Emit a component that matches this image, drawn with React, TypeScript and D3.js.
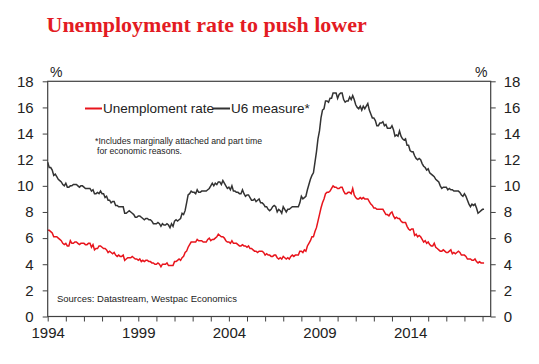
import { useRef, useEffect } from 'react'
import * as d3 from 'd3'

// monthly data, Jan 1994 onwards
const startYear = 1994

const unemploymentRate = [
  6.6, 6.6, 6.5, 6.4, 6.1, 6.1, 6.1, 6.0, 5.9, 5.8, 5.6, 5.5,
  5.6, 5.4, 5.4, 5.8, 5.6, 5.6, 5.7, 5.7, 5.6, 5.5, 5.6, 5.6,
  5.6, 5.5, 5.5, 5.6, 5.6, 5.3, 5.5, 5.1, 5.2, 5.2, 5.4, 5.4,
  5.3, 5.2, 5.2, 5.1, 4.9, 5.0, 4.9, 4.8, 4.9, 4.7, 4.6, 4.7,
  4.6, 4.6, 4.7, 4.3, 4.4, 4.5, 4.5, 4.5, 4.6, 4.5, 4.4, 4.4,
  4.3, 4.4, 4.2, 4.3, 4.2, 4.3, 4.3, 4.2, 4.2, 4.1, 4.1, 4.0,
  4.0, 4.1, 4.0, 3.8, 4.0, 4.0, 4.0, 4.1, 3.9, 3.9, 3.9, 3.9,
  4.2, 4.2, 4.3, 4.4, 4.3, 4.5, 4.6, 4.9, 5.0, 5.3, 5.5, 5.7,
  5.7, 5.7, 5.7, 5.9, 5.8, 5.8, 5.8, 5.7, 5.7, 5.7, 5.9, 6.0,
  5.8, 5.9, 5.9, 6.0, 6.1, 6.3, 6.2, 6.1, 6.1, 6.0, 5.8, 5.7,
  5.7, 5.6, 5.8, 5.6, 5.6, 5.6, 5.5, 5.4, 5.4, 5.5, 5.4, 5.4,
  5.3, 5.4, 5.2, 5.2, 5.1, 5.0, 5.0, 4.9, 5.0, 5.0, 5.0, 4.9,
  4.7, 4.8, 4.7, 4.7, 4.6, 4.6, 4.7, 4.7, 4.5, 4.4, 4.5, 4.4,
  4.6, 4.5, 4.4, 4.5, 4.4, 4.6, 4.7, 4.6, 4.7, 4.7, 4.7, 5.0,
  5.0, 4.9, 5.1, 5.0, 5.4, 5.6, 5.8, 6.1, 6.1, 6.5, 6.8, 7.3,
  7.8, 8.3, 8.7, 9.0, 9.4, 9.5, 9.5, 9.6, 9.8, 10.0, 9.9, 9.9,
  9.8, 9.8, 9.9, 9.9, 9.6, 9.4, 9.4, 9.5, 9.5, 9.4, 9.8, 9.3,
  9.1, 9.0, 9.0, 9.1, 9.0, 9.1, 9.0, 9.0, 9.0, 8.8, 8.6, 8.5,
  8.3, 8.3, 8.2, 8.2, 8.2, 8.2, 8.2, 8.0, 7.8, 7.8, 7.7, 7.9,
  8.0, 7.7, 7.5, 7.6, 7.5, 7.5, 7.3, 7.2, 7.2, 7.2, 6.9, 6.7,
  6.6, 6.7, 6.7, 6.2, 6.3, 6.1, 6.2, 6.1, 5.9, 5.7, 5.8, 5.6,
  5.7, 5.5, 5.4, 5.4, 5.6, 5.3, 5.2, 5.1, 5.0, 5.0, 5.1, 5.0,
  4.9, 4.9, 5.0, 5.1, 4.8, 4.9, 4.8, 4.9, 5.0, 4.9, 4.7, 4.7,
  4.7, 4.6, 4.4, 4.4, 4.4, 4.3, 4.3, 4.4, 4.2, 4.1, 4.2, 4.1,
  4.1, 4.1,
]

const u6Measure = [
  11.8, 11.4, 11.4, 11.2, 10.8, 10.9, 10.7, 10.5, 10.4, 10.3, 10.1, 10.0,
  10.2, 9.9, 9.9, 10.0, 10.0, 10.1, 10.1, 10.1, 10.0, 9.9, 10.0, 10.0,
  9.9, 9.8, 9.8, 9.8, 9.8, 9.6, 9.7, 9.4, 9.4, 9.5, 9.4, 9.6,
  9.4, 9.4, 9.1, 9.2, 8.9, 8.9, 8.7, 8.8, 8.8, 8.5, 8.5, 8.4,
  8.4, 8.4, 8.4, 7.9, 7.9, 8.0, 8.1, 8.0, 7.9, 7.8, 7.6, 7.6,
  7.7, 7.7, 7.6, 7.5, 7.4, 7.5, 7.5, 7.4, 7.4, 7.3, 7.1, 7.1,
  7.1, 7.2, 7.1, 6.9, 7.1, 7.0, 7.0, 7.1, 7.0, 6.8, 7.1, 6.9,
  7.3, 7.4, 7.3, 7.4, 7.5, 7.9, 7.8, 8.1, 8.7, 9.3, 9.4, 9.6,
  9.5, 9.5, 9.4, 9.7, 9.5, 9.5, 9.6, 9.6, 9.6, 9.6, 9.7, 9.8,
  10.0, 10.2, 10.0, 10.2, 10.1, 10.3, 10.3, 10.1, 10.4, 10.2, 10.0, 9.8,
  9.9, 9.7, 10.0, 9.6, 9.6, 9.5, 9.5, 9.4, 9.4, 9.7, 9.4, 9.2,
  9.3, 9.3, 9.1, 8.9, 8.9, 9.0, 8.8, 8.9, 9.0, 8.7, 8.7, 8.6,
  8.4, 8.4, 8.2, 8.1, 8.2, 8.4, 8.5, 8.4, 8.0, 8.2, 8.1, 7.9,
  8.4, 8.2, 8.0, 8.2, 8.2, 8.3, 8.4, 8.4, 8.4, 8.4, 8.4, 8.7,
  9.2, 9.0, 9.1, 9.2, 9.7, 10.1, 10.5, 10.8, 11.0, 11.8, 12.6, 13.6,
  14.2, 15.2, 15.8, 15.9, 16.5, 16.5, 16.4, 16.7, 16.7, 17.1, 17.1, 17.1,
  16.7, 17.0, 17.1, 17.1, 16.6, 16.4, 16.5, 16.5, 16.8, 16.6, 16.9, 16.6,
  16.2, 16.0, 15.9, 16.1, 15.8, 16.1, 15.9, 16.1, 16.3, 15.8, 15.5, 15.2,
  15.2, 15.0, 14.6, 14.6, 14.8, 14.8, 14.9, 14.6, 14.7, 14.4, 14.4, 14.4,
  14.6, 14.3, 13.8, 13.9, 13.8, 14.2, 13.8, 13.6, 13.5, 13.6, 13.1, 13.1,
  12.7, 12.6, 12.6, 12.3, 12.1, 12.0, 12.1, 12.0, 11.7, 11.5, 11.4, 11.2,
  11.3, 11.0, 10.9, 10.8, 10.7, 10.5, 10.4, 10.3, 10.0, 9.8, 9.9, 9.9,
  9.9, 9.7, 9.8, 9.7, 9.7, 9.6, 9.6, 9.6, 9.6, 9.5, 9.3, 9.2,
  9.4, 9.2, 8.9, 8.6, 8.4, 8.6, 8.5, 8.6, 8.3, 7.9, 8.0, 8.1,
  8.2, 8.2,
]

const yTicks = [0, 2, 4, 6, 8, 10, 12, 14, 16, 18]
const yearTicks = d3.range(1994, 2019)
const yearLabels = [1994, 1999, 2004, 2009, 2014]

const RED = '#e8141c'
const DARK = '#333333'
const AXIS = '#404040'
const FONT = 'Arial, "Liberation Sans", sans-serif'

export default function App() {
  const svgRef = useRef<SVGSVGElement>(null)
  const width = 539
  const height = 364

  useEffect(() => {
    if (!svgRef.current) return
    const svg = d3.select(svgRef.current)
    svg.selectAll('*').remove()

    const left = 47.7, right = 490.7, top = 81.3, bottom = 316.5

    const x = d3.scaleLinear().domain([1994, 2018.45]).range([left, right])
    const y = d3.scaleLinear().domain([0, 18]).range([bottom, top])

    svg.append('rect').attr('width', width).attr('height', height).attr('fill', '#fff')

    // title
    svg.append('text')
      .attr('x', 46.5)
      .attr('y', 31.5)
      .attr('fill', '#e31b23')
      .attr('font-family', '"Liberation Serif", "Times New Roman", serif')
      .attr('font-weight', 'bold')
      .attr('font-size', 22)
      .text('Unemployment rate to push lower')

    // lines
    const line = d3.line<number>()
      .x((_, i) => x(startYear + i / 12))
      .y(d => y(d))

    svg.append('path').datum(u6Measure)
      .attr('d', line).attr('fill', 'none')
      .attr('stroke', DARK).attr('stroke-width', 1.5)
    svg.append('path').datum(unemploymentRate)
      .attr('d', line).attr('fill', 'none')
      .attr('stroke', RED).attr('stroke-width', 1.5)

    // frame
    svg.append('rect')
      .attr('x', left).attr('y', top)
      .attr('width', right - left).attr('height', bottom - top)
      .attr('fill', 'none').attr('stroke', AXIS).attr('stroke-width', 1.2)

    const styleAxis = (g: d3.Selection<SVGGElement, unknown, null, undefined>) => {
      g.select('.domain').remove()
      g.selectAll('line').attr('stroke', AXIS).attr('stroke-width', 1)
      g.selectAll('text').attr('fill', '#222').attr('font-family', FONT).attr('font-size', 15)
    }

    // left axis
    svg.append('g')
      .attr('transform', `translate(${left},0)`)
      .call(d3.axisLeft(y).tickValues(yTicks).tickSize(5).tickPadding(9))
      .call(styleAxis)

    // right axis
    svg.append('g')
      .attr('transform', `translate(${right},0)`)
      .call(d3.axisRight(y).tickValues(yTicks).tickSize(5).tickPadding(8))
      .call(styleAxis)

    // bottom axis
    svg.append('g')
      .attr('transform', `translate(0,${bottom})`)
      .call(d3.axisBottom(x).tickValues(yearTicks).tickSize(5).tickPadding(6)
        .tickFormat(d => (yearLabels.includes(+d) ? String(d) : '')))
      .call(styleAxis)

    // % units
    svg.append('text').attr('x', 50).attr('y', 77)
      .attr('font-family', FONT).attr('font-size', 14).attr('fill', '#222').text('%')
    svg.append('text').attr('x', 475).attr('y', 77)
      .attr('font-family', FONT).attr('font-size', 14).attr('fill', '#222').text('%')

    // legend
    const legend = [
      { label: 'Unemploment rate', color: RED, x: 85 },
      { label: 'U6 measure*', color: DARK, x: 213 },
    ]
    legend.forEach(l => {
      svg.append('line')
        .attr('x1', l.x).attr('x2', l.x + 17)
        .attr('y1', 108.5).attr('y2', 108.5)
        .attr('stroke', l.color).attr('stroke-width', 2)
      svg.append('text')
        .attr('x', l.x + 18).attr('y', 113)
        .attr('font-family', FONT).attr('font-size', 13.5).attr('fill', '#222')
        .text(l.label)
    })

    // footnote
    svg.append('text').attr('x', 95).attr('y', 144)
      .attr('font-family', FONT).attr('font-size', 8.8).attr('fill', '#222')
      .attr('textLength', 167).attr('lengthAdjust', 'spacingAndGlyphs')
      .text('*Includes marginally attached and part time')
    svg.append('text').attr('x', 97).attr('y', 154)
      .attr('font-family', FONT).attr('font-size', 8.8).attr('fill', '#222')
      .attr('textLength', 85).attr('lengthAdjust', 'spacingAndGlyphs')
      .text('for economic reasons.')

    // source
    svg.append('text').attr('x', 57).attr('y', 302)
      .attr('font-family', FONT).attr('font-size', 9.5).attr('fill', '#222')
      .attr('textLength', 180).attr('lengthAdjust', 'spacingAndGlyphs')
      .text('Sources: Datastream, Westpac Economics')
  }, [])

  return (
    <svg
      ref={svgRef}
      width={width}
      height={height}
      style={{ position: 'absolute', left: 0, top: 0 }}
    />
  )
}
